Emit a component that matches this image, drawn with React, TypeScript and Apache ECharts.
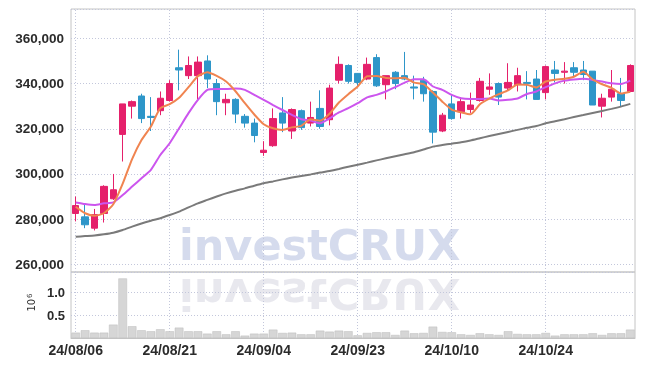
import React, { useEffect, useRef } from 'react';
import * as echarts from 'echarts';

const dates = [
  '24/08/06', '24/08/07', '24/08/08', '24/08/09', '24/08/12', '24/08/13', '24/08/14', '24/08/16', '24/08/19', '24/08/20',
  '24/08/21', '24/08/22', '24/08/23', '24/08/26', '24/08/27', '24/08/28', '24/08/29', '24/08/30', '24/09/02', '24/09/03',
  '24/09/04', '24/09/05', '24/09/06', '24/09/09', '24/09/10', '24/09/11', '24/09/12', '24/09/13', '24/09/19', '24/09/20',
  '24/09/23', '24/09/24', '24/09/25', '24/09/26', '24/09/27', '24/09/30', '24/10/02', '24/10/04', '24/10/07', '24/10/08',
  '24/10/10', '24/10/11', '24/10/14', '24/10/15', '24/10/16', '24/10/17', '24/10/18', '24/10/21', '24/10/22', '24/10/23',
  '24/10/24', '24/10/25', '24/10/28', '24/10/29', '24/10/30', '24/10/31', '24/11/01', '24/11/04', '24/11/05', '24/11/06',
];

const opens = [
  282500, 281000, 276000, 282500, 289000, 317500, 330000, 334500, 325500, 328000,
  332500, 347000, 343500, 343500, 350000, 340000, 331500, 333000, 325500, 322500,
  309500, 312500, 327000, 319000, 328000, 322500, 329000, 324000, 341500, 348000,
  344500, 342000, 351500, 339500, 345000, 343500, 338500, 341500, 336500, 319000,
  331000, 327500, 328500, 332500, 337500, 340000, 338000, 339500, 340500, 342000,
  336000, 346000, 345000, 347000, 346000, 345500, 330000, 334000, 335500, 336500,
];
const closes = [
  286000, 277500, 282000, 294500, 293000, 331000, 332000, 324500, 325000, 333500,
  340000, 346000, 348000, 349500, 342000, 332000, 333000, 326500, 322500, 317000,
  310500, 324500, 322500, 328500, 320500, 325000, 321000, 338000, 348500, 341000,
  340500, 348500, 339000, 343500, 340000, 342000, 338000, 335500, 318500, 326000,
  324500, 332000, 330500, 341000, 338500, 334000, 340500, 343500, 340000, 333000,
  347500, 344500, 345500, 345000, 344000, 330500, 333500, 337500, 332500, 348000,
];
const lows = [
  279000, 276000, 275000, 278500, 288500, 305500, 324500, 322500, 319000, 326000,
  332000, 337000, 342000, 333000, 338000, 326000, 326000, 322500, 320500, 314000,
  308000, 312000, 318500, 315500, 319500, 321000, 320000, 321500, 340000, 340000,
  338500, 341500, 338500, 333000, 337500, 341500, 333000, 332000, 313500, 318500,
  324000, 324500, 327000, 332000, 335000, 330500, 337000, 336500, 333000, 333000,
  333000, 340500, 340000, 343000, 341500, 330500, 325000, 332000, 330000, 336500,
];
const highs = [
  290000, 287000, 284500, 295000, 300000, 331000, 332500, 335500, 334000, 336500,
  341500, 355000, 352000, 352000, 352500, 342000, 335500, 333500, 326500, 324500,
  314500, 329000, 334000, 329000, 328500, 332000, 337000, 339500, 352000, 348500,
  344500, 351500, 353000, 343500, 345500, 354000, 343500, 343000, 337000, 327000,
  335000, 334000, 336000, 342500, 344500, 340500, 349000, 347000, 345500, 346000,
  348000, 350000, 349500, 349500, 350000, 345500, 335500, 346000, 342500, 348500,
];
const volumes = [
  118000, 170000, 118000, 118000, 294000, 1308000, 258000, 170000, 148000, 192000,
  148000, 228000, 148000, 148000, 96000, 148000, 81000, 148000, 52000, 96000,
  96000, 184000, 111000, 118000, 81000, 81000, 162000, 140000, 162000, 148000,
  59000, 111000, 126000, 126000, 67000, 162000, 104000, 111000, 250000, 133000,
  126000, 81000, 67000, 104000, 81000, 67000, 148000, 89000, 81000, 81000,
  111000, 52000, 81000, 81000, 81000, 104000, 67000, 104000, 104000, 184000,
];
const ma5 = [
  285500, 282600, 281500, 282600, 286600, 295700, 306600, 315000, 321000, 329100,
  330900, 333700, 338400, 343300, 345000, 343400, 340900, 336600, 331300, 326300,
  322000, 320200, 319500, 320600, 321300, 324200, 323500, 326600, 331600, 335300,
  338700, 343200, 343400, 342500, 342300, 342600, 340400, 339700, 336000, 332000,
  328500, 327300, 326400, 330800, 333300, 335300, 337000, 339600, 339500, 338300,
  340900, 341700, 342100, 343000, 345200, 341800, 339700, 338100, 335600, 336400,
];
const ma20 = [
  287400, 286700, 286300, 287000, 287400, 290700, 294400, 298100, 301800, 308400,
  313600, 320200, 326900, 332800, 337200, 337600, 337600, 337800, 337200, 335000,
  332800, 330500, 328300, 326100, 324200, 323600, 322400, 324600, 327200, 329100,
  331300, 333900, 335000, 336500, 338400, 340400, 341900, 341900, 338700, 337200,
  335000, 333500, 333200, 333200, 333400, 332500, 332800, 333400, 335400, 336500,
  338400, 340100, 341300, 341800, 342100, 341600, 340900, 340100, 339800, 341300,
];
const ma120 = [
  272200, 272500, 272800, 273300, 274000, 275200, 276700, 278100, 279300, 280400,
  281800, 283300, 285200, 287000, 288500, 290000, 291400, 292600, 293600, 294800,
  295900, 296700, 297600, 298400, 299100, 299800, 300600, 301300, 302200, 303200,
  304100, 305000, 306000, 306900, 307800, 308700, 309600, 310800, 312100, 312800,
  313400, 314000, 314800, 315800, 316800, 317700, 318600, 319500, 320400, 321200,
  322400, 323300, 324200, 325200, 326100, 327000, 327900, 328800, 329800, 331000,
];
const gridDates = ['24/08/06', '24/08/21', '24/09/04', '24/09/23', '24/10/10', '24/10/24'];

const UP = '#e5206b';
const DOWN = '#2e96c9';
const LABEL_FONT = "'Liberation Sans', Arial, sans-serif";
const GRID_COLOR = '#c3c7db';

function fmtThousands(v: number) {
  return String(v).replace(/\B(?=(\d{3})+(?!\d))/g, ',');
}

export default function App() {
  const ref = useRef<HTMLDivElement>(null);
  useEffect(() => {
    const chart = echarts.init(ref.current!, undefined, { renderer: 'svg' });
    const candleData = dates.map((_, i) => [opens[i], closes[i], lows[i], highs[i]]);
    const vLines = {
      silent: true,
      symbol: ['none', 'none'],
      label: { show: false },
      z: 1,
      lineStyle: { type: [1, 2], color: GRID_COLOR, width: 1 },
      emphasis: { disabled: true },
      data: gridDates.map((d) => ({ xAxis: d })),
    };
    const option: any = {
      animation: false,
      grid: [
        { left: 71, right: 10, top: 9, height: 263, show: true, borderColor: '#c4c4c4', borderWidth: 1 },
        { left: 71, right: 10, top: 272, height: 66, show: true, borderColor: '#c4c4c4', borderWidth: 1 },
      ],
      xAxis: [
        {
          type: 'category', gridIndex: 0, data: dates, boundaryGap: true,
          axisLine: { show: false }, axisTick: { show: false }, axisLabel: { show: false }, splitLine: { show: false },
        },
        {
          type: 'category', gridIndex: 1, data: dates, boundaryGap: true,
          axisLine: { show: true, lineStyle: { color: '#c4c4c4' } }, axisTick: { show: false },
          axisLabel: { interval: 9, color: '#2b2b2b', fontSize: 14, fontWeight: 'bold', fontFamily: LABEL_FONT, margin: 5 },
          splitLine: { show: false },
        },
      ],
      yAxis: [
        {
          type: 'value', gridIndex: 0, min: 256600, max: 373000, scale: true,
          axisLine: { show: false }, axisTick: { show: false },
          axisLabel: {
            color: '#2b2b2b', fontSize: 13.5, fontWeight: 'bold', fontFamily: LABEL_FONT, margin: 7,
            formatter: (v: number) => (v % 20000 === 0 ? fmtThousands(v) : ''),
          },
          splitLine: { show: true, lineStyle: { type: [1, 2], color: GRID_COLOR, width: 1 } },
        },
        {
          type: 'value', gridIndex: 1, min: 0, max: 1450000, interval: 500000,
          axisLine: { show: false }, axisTick: { show: false },
          axisLabel: {
            color: '#2b2b2b', fontSize: 13, fontWeight: 'bold', fontFamily: LABEL_FONT, margin: 6,
            formatter: (v: number) => (v > 0 && v % 500000 === 0 ? (v / 1e6).toFixed(1) : ''),
          },
          splitLine: { show: true, lineStyle: { type: [1, 2], color: GRID_COLOR, width: 1 } },
        },
      ],
      graphic: [
        {
          type: 'text', x: 179, y: 245, z: 0, silent: true,
          style: {
            text: 'investCRUX', font: "bold 43px 'DejaVu Sans', sans-serif",
            fill: 'rgba(155,170,212,0.42)', textAlign: 'left', textVerticalAlign: 'middle',
          },
        },
        {
          type: 'text', x: 179, y: 293.5, scaleY: -1, z: 0, silent: true,
          style: {
            text: 'investCRUX', font: "bold 43px 'DejaVu Sans', sans-serif",
            fill: 'rgba(180,180,200,0.3)', textAlign: 'left', textVerticalAlign: 'middle',
          },
        },
        {
          type: 'group', x: 31.5, y: 311.5, rotation: Math.PI / 2, silent: true,
          children: [
            { type: 'text', x: 0, y: 0, style: { text: '10', font: "10px 'DejaVu Sans', sans-serif", fill: '#333', textAlign: 'left', textVerticalAlign: 'middle' } },
            { type: 'text', x: 13.5, y: -1.5, style: { text: '6', font: "7px 'DejaVu Sans', sans-serif", fill: '#333', textAlign: 'left', textVerticalAlign: 'middle' } },
          ],
        },
      ],
      series: [
        {
          type: 'candlestick', xAxisIndex: 0, yAxisIndex: 0, data: candleData, barWidth: 7,
          itemStyle: { color: UP, color0: DOWN, borderColor: UP, borderColor0: DOWN, borderWidth: 1 },
          markLine: vLines,
        },
        {
          type: 'line', xAxisIndex: 0, yAxisIndex: 0, data: ma120, showSymbol: false, smooth: 0.2,
          lineStyle: { color: '#7a7a7a', width: 2 },
        },
        {
          type: 'line', xAxisIndex: 0, yAxisIndex: 0, data: ma20, showSymbol: false, smooth: 0.2,
          lineStyle: { color: '#cc55ee', width: 2 },
        },
        {
          type: 'line', xAxisIndex: 0, yAxisIndex: 0, data: ma5, showSymbol: false, smooth: 0.2,
          lineStyle: { color: '#f08450', width: 2 },
        },
        {
          type: 'bar', xAxisIndex: 1, yAxisIndex: 1, data: volumes, barWidth: '92%',
          itemStyle: { color: '#d6d6d6', borderColor: '#bdbdbd', borderWidth: 0.5 },
          markLine: vLines,
        },
      ],
    };
    chart.setOption(option);
    return () => chart.dispose();
  }, []);
  return <div ref={ref} style={{ position: 'fixed', left: 0, top: 0, width: 645, height: 366 }} />;
}
